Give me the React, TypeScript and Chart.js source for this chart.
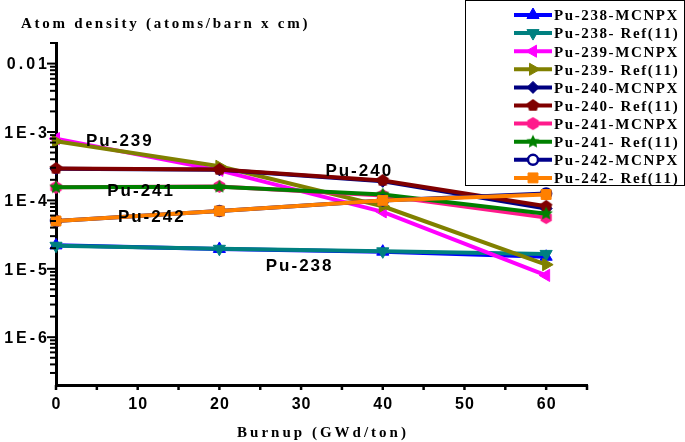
import React, { useEffect, useRef } from 'react';
import { Chart, registerables } from 'chart.js';
import { drawPoint } from 'chart.js/helpers';

Chart.register(...registerables);

// ---- data ----
const burnup = [0, 20, 40, 60];
const pu238Mcnpx = [2.2e-5, 1.95e-5, 1.78e-5, 1.5e-5];
const pu238Ref = [2.17e-5, 1.96e-5, 1.8e-5, 1.65e-5];
const pu239Mcnpx = [8.0e-4, 2.75e-4, 6.8e-5, 8.0e-6];
const pu239Ref = [7.3e-4, 3.15e-4, 8.2e-5, 1.15e-5];
const pu240Mcnpx = [2.9e-4, 2.8e-4, 1.9e-4, 7.6e-5];
const pu240Ref = [2.93e-4, 2.84e-4, 1.96e-4, 8.2e-5];
const pu241Mcnpx = [1.55e-4, 1.6e-4, 1.18e-4, 5.6e-5];
const pu241Ref = [1.55e-4, 1.58e-4, 1.22e-4, 6.4e-5];
const pu242Mcnpx = [5.0e-5, 7.0e-5, 1.0e-4, 1.26e-4];
const pu242Ref = [5.0e-5, 7.0e-5, 1.0e-4, 1.22e-4];

const seriesLabels = [
  'Pu-238-MCNPX', 'Pu-238- Ref(11)',
  'Pu-239-MCNPX', 'Pu-239- Ref(11)',
  'Pu-240-MCNPX', 'Pu-240- Ref(11)',
  'Pu-241-MCNPX', 'Pu-241- Ref(11)',
  'Pu-242-MCNPX', 'Pu-242- Ref(11)',
];
const seriesValues = [
  pu238Mcnpx, pu238Ref, pu239Mcnpx, pu239Ref, pu240Mcnpx,
  pu240Ref, pu241Mcnpx, pu241Ref, pu242Mcnpx, pu242Ref,
];

const xTickValues = [0, 10, 20, 30, 40, 50, 60];
const xTickLabels = ['0', '10', '20', '30', '40', '50', '60'];
const yTickValues = [1e-2, 1e-3, 1e-4, 1e-5, 1e-6];
const yTickLabels = ['0.01', '1E-3', '1E-4', '1E-5', '1E-6'];

const yTitle = 'Atom density (atoms/barn x cm)';
const xTitle = 'Burnup (GWd/ton)';

const noteTexts = ['Pu-239', 'Pu-240', 'Pu-241', 'Pu-242', 'Pu-238'];
const noteBurnup = [7.7, 37, 10.3, 11.6, 29.7];
const noteDensity = [7.6e-4, 2.74e-4, 1.4e-4, 6.0e-5, 1.15e-5];

// ---- styles ----
function makeShape(kind: 'pentagon' | 'hexagon' | 'star', fill: string, r: number) {
  const c = document.createElement('canvas');
  const s = Math.ceil(r * 2 + 2);
  c.width = s;
  c.height = s;
  const g = c.getContext('2d')!;
  g.translate(s / 2, s / 2);
  g.beginPath();
  if (kind === 'star') {
    for (let i = 0; i < 10; i++) {
      const a = -Math.PI / 2 + (i * Math.PI) / 5;
      const rr = i % 2 ? r * 0.5 : r;
      const px = Math.cos(a) * rr;
      const py = Math.sin(a) * rr;
      if (i === 0) g.moveTo(px, py);
      else g.lineTo(px, py);
    }
  } else {
    const n = kind === 'pentagon' ? 5 : 6;
    for (let i = 0; i < n; i++) {
      const a = -Math.PI / 2 + (i * 2 * Math.PI) / n;
      const px = Math.cos(a) * r;
      const py = Math.sin(a) * r;
      if (i === 0) g.moveTo(px, py);
      else g.lineTo(px, py);
    }
  }
  g.closePath();
  g.fillStyle = fill;
  g.fill();
  return c;
}

function drawSpaced(
  ctx: CanvasRenderingContext2D,
  text: string,
  x: number,
  y: number,
  align: 'left' | 'center' | 'right',
  spacing: number
) {
  ctx.textAlign = 'left';
  const widths = Array.from(text).map((ch) => ctx.measureText(ch).width);
  const total = widths.reduce((a, b) => a + b, 0) + spacing * (widths.length - 1);
  let cx = align === 'left' ? x : align === 'center' ? x - total / 2 : x - total;
  Array.from(text).forEach((ch, i) => {
    ctx.fillText(ch, cx, y);
    cx += widths[i] + spacing;
  });
}

const overlayPlugin = {
  id: 'overlay',
  afterDraw(chart: any) {
    const ctx: CanvasRenderingContext2D = chart.ctx;
    const xs = chart.scales.x;
    const ys = chart.scales.y;
    const area = chart.chartArea;
    ctx.save();
    ctx.strokeStyle = '#000';
    ctx.fillStyle = '#000';

    // y ticks (major + minor)
    ctx.lineWidth = 2;
    for (let e = -7; e <= -2; e++) {
      for (let m = 1; m <= 9; m++) {
        const v = m * Math.pow(10, e);
        if (v <= ys.min * 1.0001 || v > ys.max * 1.0001) continue;
        const py = ys.getPixelForValue(v);
        const len = m === 1 ? 9 : 6;
        ctx.beginPath();
        ctx.moveTo(area.left - len, py);
        ctx.lineTo(area.left, py);
        ctx.stroke();
      }
    }
    // x ticks
    ctx.lineWidth = 2.5;
    for (let v = 0; v <= 65; v += 5) {
      const px = xs.getPixelForValue(v);
      ctx.beginPath();
      ctx.moveTo(px, area.bottom);
      ctx.lineTo(px, area.bottom + 5);
      ctx.stroke();
    }

    // tick labels
    ctx.font = 'bold 16px "Liberation Sans"';
    xTickValues.forEach((v, i) => {
      drawSpaced(ctx, xTickLabels[i], xs.getPixelForValue(v), 409, 'center', 1);
    });
    ctx.font = 'bold 16px "Liberation Sans"';
    yTickValues.forEach((v, i) => {
      drawSpaced(ctx, yTickLabels[i], area.left - 9, ys.getPixelForValue(v) + 5.8, 'right', 3);
    });

    // titles
    ctx.font = 'bold 15px "Liberation Serif"';
    drawSpaced(ctx, yTitle, 21, 28, 'left', 2.75);
    drawSpaced(ctx, xTitle, (area.left + area.right) / 2, 437, 'center', 3);

    // annotations
    ctx.font = 'bold 17px "Liberation Sans"';
    noteTexts.forEach((t, i) => {
      drawSpaced(ctx, t, xs.getPixelForValue(noteBurnup[i]), ys.getPixelForValue(noteDensity[i]) + 6, 'center', 2);
    });

    // legend
    ctx.lineWidth = 1;
    ctx.strokeStyle = '#000';
    ctx.strokeRect(465.5, 0.5, 219, 185);
    ctx.font = 'bold 15px "Liberation Serif"';
    chart.data.datasets.forEach((ds: any, i: number) => {
      const cy = 15 + i * 18.1;
      ctx.strokeStyle = ds.borderColor;
      ctx.lineWidth = 4;
      ctx.beginPath();
      ctx.moveTo(514, cy);
      ctx.lineTo(552, cy);
      ctx.stroke();
      ctx.fillStyle = ds.pointBackgroundColor;
      ctx.strokeStyle = ds.pointBorderColor;
      ctx.lineWidth = ds.pointBorderWidth;
      drawPoint(ctx, {
        pointStyle: ds.pointStyle,
        rotation: ds.pointRotation || 0,
        radius: ds.pointRadius,
        borderWidth: ds.pointBorderWidth,
      } as any, 533, cy);
      ctx.fillStyle = '#000';
      drawSpaced(ctx, ds.label, 554, cy + 5.3, 'left', 1.6);
    });
    ctx.restore();
  },
};

export default function App() {
  const ref = useRef<HTMLCanvasElement>(null);
  useEffect(() => {
    document.body.style.margin = '0';
    const pentagon = makeShape('pentagon', '#800000', 6.5);
    const hexagon = makeShape('hexagon', '#FF1A8C', 6.5);
    const star = makeShape('star', '#008000', 7);
    const styles: any[] = [
      { color: '#0000FF', point: 'triangle', rot: 0, r: 7 },
      { color: '#008080', point: 'triangle', rot: 180, r: 7 },
      { color: '#FF00FF', point: 'triangle', rot: 270, r: 7 },
      { color: '#808000', point: 'triangle', rot: 90, r: 7 },
      { color: '#000080', point: 'rectRot', rot: 0, r: 6 },
      { color: '#800000', point: pentagon, rot: 0, r: 6 },
      { color: '#FF1A8C', point: hexagon, rot: 0, r: 6 },
      { color: '#008000', point: star, rot: 0, r: 6 },
      { color: '#00008B', point: 'circle', rot: 0, r: 5, bg: '#FFFFFF', bw: 2.5 },
      { color: '#FF8000', point: 'rect', rot: 0, r: 7 },
    ];
    const datasets = seriesValues.map((vals, i) => ({
      label: seriesLabels[i],
      data: burnup.map((x, j) => ({ x, y: vals[j] })),
      borderColor: styles[i].color,
      backgroundColor: styles[i].color,
      borderWidth: 4,
      pointStyle: styles[i].point,
      pointRotation: styles[i].rot,
      pointRadius: styles[i].r,
      pointBackgroundColor: styles[i].bg || styles[i].color,
      pointBorderColor: styles[i].color,
      pointBorderWidth: styles[i].bw || 1,
      tension: 0,
      fill: false,
      clip: false as any,
      order: 10 - i,
    }));
    const chart = new Chart(ref.current!, {
      type: 'line',
      data: { datasets },
      options: {
        responsive: false,
        animation: false,
        devicePixelRatio: 1,
        layout: { padding: { top: 43, right: 98, left: 0, bottom: 0 } },
        plugins: {
          legend: { display: false },
          tooltip: { enabled: false },
          title: { display: false },
        },
        scales: {
          x: {
            type: 'linear',
            min: 0,
            max: 65,
            ticks: { display: false, stepSize: 5 },
            grid: { display: false, drawTicks: false },
            border: { display: true, color: '#000', width: 3 },
            afterFit: (s: any) => { s.height = 57; },
          },
          y: {
            type: 'logarithmic',
            min: 2e-7,
            max: 2e-2,
            ticks: { display: false },
            grid: { display: false, drawTicks: false },
            border: { display: true, color: '#000', width: 3 },
            afterFit: (s: any) => { s.width = 56; },
          },
        },
      } as any,
      plugins: [overlayPlugin],
    });
    return () => chart.destroy();
  }, []);
  return (
    <div style={{ width: 685, height: 442, background: '#fff' }}>
      <canvas ref={ref} width={685} height={442} style={{ display: 'block' }} />
    </div>
  );
}
